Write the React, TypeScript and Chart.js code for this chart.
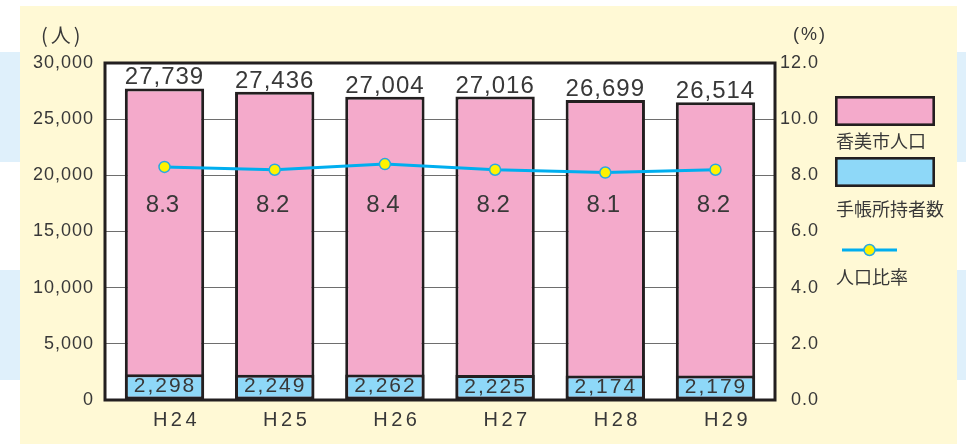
import React, { useEffect, useRef } from 'react';
import { Chart, registerables } from 'chart.js';

Chart.register(...registerables);

// ---- data ----
const categories = ['H24', 'H25', 'H26', 'H27', 'H28', 'H29'];
const population = [27739, 27436, 27004, 27016, 26699, 26514];
const handbookHolders = [2298, 2249, 2262, 2225, 2174, 2179];
const populationRatio = [8.3, 8.2, 8.4, 8.2, 8.1, 8.2];
const seriesNames = ['香美市人口', '手帳所持者数', '人口比率'];
const leftUnit = '(人)';
const rightUnit = '(%)';

// ---- styles ----
const PINK = '#f4aacb';
const BLUE = '#8ed8f8';
const LINE = '#00aeef';
const POINT_FILL = '#fff200';
const POINT_BORDER = '#27a9e1';
const FRAME = '#231f20';
const GRID = '#6e6e6e';
const TEXT = '#383838';
const PANEL = '#fff9d5';
const STRIPE = '#dff0fb';
const NUM_FONT = '"Liberation Sans", Arial, sans-serif';
const JP_FONT = '"Noto Sans CJK JP", "Noto Sans", sans-serif';
const RATIO_LABEL_LEVEL = 17300; // left-axis level at which the ratio labels sit
const X_EDGE_PAD = 0.04; // extra category-scale margin on each side

const drawPlugin = {
  id: 'customDecor',
  beforeDraw(chart: any) {
    const { ctx, chartArea: a } = chart;
    ctx.save();
    ctx.fillStyle = '#ffffff';
    ctx.fillRect(a.left, a.top, a.right - a.left, a.bottom - a.top);
    ctx.restore();
    ctx.letterSpacing = '1px';
  },
  afterDatasetsDraw(chart: any) {
    const { ctx, chartArea: a } = chart;
    ctx.save();
    // frame
    ctx.lineWidth = 3;
    ctx.strokeStyle = FRAME;
    ctx.strokeRect(a.left, a.top, a.right - a.left, a.bottom - a.top);

    const popMeta = chart.getDatasetMeta(0);
    const holdMeta = chart.getDatasetMeta(1);
    const yL = chart.scales.y;
    ctx.fillStyle = TEXT;
    ctx.textAlign = 'center';

    // population labels above bars
    ctx.font = `24px ${NUM_FONT}`;
    ctx.letterSpacing = '1px';
    ctx.textBaseline = 'alphabetic';
    popMeta.data.forEach((bar: any, i: number) => {
      ctx.fillText(population[i].toLocaleString('en-US'), bar.x, bar.y - 4);
    });

    // ratio labels
    ctx.letterSpacing = '0px';
    ctx.textBaseline = 'middle';
    const ry = yL.getPixelForValue(RATIO_LABEL_LEVEL);
    popMeta.data.forEach((bar: any, i: number) => {
      ctx.fillText(populationRatio[i].toFixed(1), bar.x - 2, ry);
    });

    // holders labels inside blue bars
    ctx.font = `21px ${NUM_FONT}`;
    ctx.letterSpacing = '2px';
    holdMeta.data.forEach((bar: any, i: number) => {
      ctx.fillText(handbookHolders[i].toLocaleString('en-US'), bar.x + 0.5, (bar.y + bar.base) / 2 - 0.5);
    });
    ctx.restore();
    // x axis ticks (z:1) are drawn after this hook -> wide letter spacing for them
    ctx.letterSpacing = '3.5px';
  },
  afterDraw(chart: any) {
    const { ctx, chartArea: a } = chart;
    ctx.letterSpacing = '0px';
    ctx.save();
    ctx.fillStyle = TEXT;
    ctx.textBaseline = 'middle';
    ctx.textAlign = 'left';

    // unit labels
    ctx.font = `20px ${JP_FONT}`;
    ctx.letterSpacing = '3px';
    ctx.fillText(leftUnit, 41, 35.5);
    ctx.font = `18px ${NUM_FONT}`;
    ctx.letterSpacing = '2px';
    ctx.fillText(rightUnit, a.right + 18, 35.5);
    ctx.letterSpacing = '0px';

    // legend
    const lx = a.right + 60;
    const boxW = 100;
    const boxH = 30;
    const drawBox = (y: number, color: string) => {
      ctx.fillStyle = color;
      ctx.fillRect(lx, y, boxW, boxH);
      ctx.lineWidth = 2.6;
      ctx.strokeStyle = FRAME;
      ctx.strokeRect(lx + 1.3, y + 1.3, boxW - 2.6, boxH - 2.6);
    };
    ctx.font = `18px ${JP_FONT}`;
    drawBox(96, chart.data.datasets[0].backgroundColor);
    ctx.fillStyle = TEXT;
    ctx.fillText(seriesNames[0], lx + 1, 141);
    drawBox(157, chart.data.datasets[1].backgroundColor);
    ctx.fillStyle = TEXT;
    ctx.fillText(seriesNames[1], lx + 1, 209);

    // line legend
    ctx.strokeStyle = LINE;
    ctx.lineWidth = 3;
    ctx.beginPath();
    ctx.moveTo(lx + 7, 250);
    ctx.lineTo(lx + 62, 250);
    ctx.stroke();
    ctx.beginPath();
    ctx.arc(lx + 34.5, 250, 5.5, 0, Math.PI * 2);
    ctx.fillStyle = POINT_FILL;
    ctx.fill();
    ctx.lineWidth = 1.5;
    ctx.strokeStyle = POINT_BORDER;
    ctx.stroke();
    ctx.fillStyle = TEXT;
    ctx.fillText(seriesNames[2], lx + 1, 277);
    ctx.restore();
  },
};

export default function App() {
  const canvasRef = useRef<HTMLCanvasElement | null>(null);

  useEffect(() => {
    if (!canvasRef.current) return;
    const chart = new Chart(canvasRef.current, {
      type: 'bar',
      data: {
        labels: categories,
        datasets: [
          {
            type: 'bar',
            label: seriesNames[0],
            data: population,
            backgroundColor: PINK,
            borderColor: FRAME,
            borderWidth: 3,
            borderSkipped: false,
            grouped: false,
            barPercentage: 0.72,
            categoryPercentage: 1,
            yAxisID: 'y',
            order: 2,
          } as any,
          {
            type: 'bar',
            label: seriesNames[1],
            data: handbookHolders,
            backgroundColor: BLUE,
            borderColor: FRAME,
            borderWidth: 3,
            borderSkipped: false,
            grouped: false,
            barPercentage: 0.72,
            categoryPercentage: 1,
            yAxisID: 'y',
            order: 1,
          } as any,
          {
            type: 'line',
            label: seriesNames[2],
            data: populationRatio,
            borderColor: LINE,
            borderWidth: 3,
            pointRadius: 5.5,
            pointBackgroundColor: POINT_FILL,
            pointBorderColor: POINT_BORDER,
            pointBorderWidth: 1.5,
            tension: 0,
            yAxisID: 'y1',
            order: 0,
          } as any,
        ],
      },
      options: {
        responsive: false,
        animation: false,
        devicePixelRatio: 1,
        layout: { padding: { left: 0, right: 147, top: 63, bottom: 0 } },
        plugins: { legend: { display: false }, tooltip: { enabled: false } },
        scales: {
          x: {
            type: 'category',
            offset: true,
            grid: { display: false, drawTicks: false },
            border: { display: false },
            ticks: {
              z: 1,
              font: { family: NUM_FONT, size: 20 },
              color: TEXT,
              padding: 8,
              labelOffset: 12,
              maxRotation: 0,
              autoSkip: false,
            },
            afterBuildTicks: (s: any) => {
              if (typeof s._startValue === 'number' && typeof s._valueRange === 'number') {
                s._startValue -= X_EDGE_PAD;
                s._valueRange += 2 * X_EDGE_PAD;
              }
            },
            afterFit: (s: any) => {
              s.height = 44;
            },
          },
          y: {
            position: 'left',
            min: 0,
            max: 30000,
            ticks: {
              stepSize: 5000,
              font: { family: NUM_FONT, size: 18 },
              color: TEXT,
              padding: 11,
              callback: (v: any) => Number(v).toLocaleString('en-US'),
            },
            grid: { color: GRID, lineWidth: 1, drawTicks: false },
            border: { display: false },
            afterFit: (s: any) => {
              s.width = 105;
            },
          },
          y1: {
            position: 'right',
            min: 0,
            max: 12,
            ticks: {
              stepSize: 2,
              font: { family: NUM_FONT, size: 18 },
              color: TEXT,
              padding: 0,
              crossAlign: 'far',
              callback: (v: any) => Number(v).toFixed(1),
            },
            grid: { display: false, drawTicks: false },
            border: { display: false },
            afterFit: (s: any) => {
              s.width = 44;
            },
          },
        },
      } as any,
      plugins: [drawPlugin],
    });
    return () => chart.destroy();
  }, []);

  const stripe = (style: React.CSSProperties) => (
    <div style={{ position: 'absolute', background: STRIPE, ...style }} />
  );

  return (
    <div
      style={{
        position: 'absolute',
        left: 0,
        top: 0,
        width: 966,
        height: 444,
        background: '#ffffff',
        overflow: 'hidden',
      }}
    >
      {stripe({ left: 0, top: 52, width: 20, height: 110 })}
      {stripe({ left: 0, top: 270, width: 20, height: 110 })}
      {stripe({ left: 957, top: 52, width: 9, height: 110 })}
      {stripe({ left: 957, top: 270, width: 9, height: 110 })}
      <div style={{ position: 'absolute', left: 20, top: 6, width: 937, height: 438, background: PANEL }} />
      <canvas
        ref={canvasRef}
        width={966}
        height={444}
        style={{ position: 'absolute', left: 0, top: 0, width: 966, height: 444 }}
      />
    </div>
  );
}
